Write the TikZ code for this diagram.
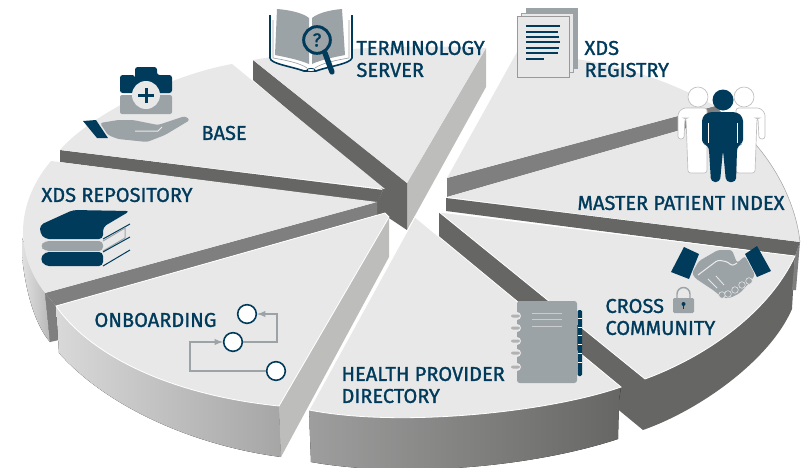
\documentclass[tikz,border=0pt]{standalone}
\usepackage{fontspec}
\setmainfont{Fira Sans}[BoldFont = Fira Sans, BoldFeatures = {FakeBold = 1.3}]
\definecolor{navy}{HTML}{003B5C}
\definecolor{top}{HTML}{E8E8E8}
\definecolor{dark}{HTML}{666664}
\definecolor{mid}{HTML}{7F7F7F}
\definecolor{pale}{HTML}{BDBDBB}
\definecolor{steel}{HTML}{9CA3A7}

\begin{document}
\begin{tikzpicture}[x = 0.75pt, y = -0.75pt, line width = 0.75pt,
                        face/.style = {fill = top, draw = white, line width = 0.6pt},
                        wall/.style = {fill = dark},
                        strip/.style = {fill = mid},
                        caption/.style = {anchor = west, inner sep = 0pt, align = left, text = navy,
                                        font = \bfseries\fontsize{15}{16.5}\selectfont},
                        ring/.style = {circle, draw = navy, fill = white, line width = 1.2pt,
                                       minimum size = 14pt, inner sep = 0pt},
                        flow/.style = {draw = steel, line width = 1.1pt},
                        man/.style = {fill = white, draw = black!25, line width = 0.5pt, rounded corners = 2pt}]
      \useasboundingbox (0, 0) rectangle (808, 468);

      % side walls
      \fill [left color = black!12, right color = black!28] (22, 238) -- (22, 255) .. controls (25, 290) and (35, 325) .. (50, 342) -- (45, 293) -- cycle;
      \fill [strip] (45, 293) -- (50, 342) -- (59, 340) -- (56, 306) -- cycle;
      \fill [left color = black!15, right color = black!35] (56, 306) -- (59, 353) .. controls (105, 405) and (190, 445) .. (281, 457) -- (279, 406) -- cycle;
      \fill [pale] (279, 406) -- (281, 457) -- (389, 257) -- (389, 217) -- cycle;
      \fill [wall] (439, 212) -- (645, 379) -- (795, 256) -- (792, 309) .. controls (770, 360) and (700, 410) .. (643, 430) -- (439, 262) -- cycle;
      \fill [strip] (800, 242) -- (796, 290) -- (792, 290) -- (795, 256) -- cycle;
      \fill [left color = black!38, right color = dark] (309, 410) -- (311, 462) .. controls (400, 478) and (530, 468) .. (618, 439) -- (619, 400) -- (621, 387) -- cycle;
      \fill [pale] (486, 48) -- (486, 87) -- (407, 230) -- (407, 183) -- cycle;
      \fill [wall] (253, 60) -- (407, 183) -- (407, 230) -- (389, 218) -- (377, 215) -- (377, 202) -- (383, 190) -- (253, 80) -- cycle;
      \fill [wall] (60, 150) -- (383, 190) -- (377, 203) -- (60, 162) -- cycle;
      \fill [strip] (45, 293) -- (377, 202) -- (377, 215) -- (56, 306) -- cycle;
      \fill [strip] (447, 178) -- (715, 106) -- (726, 117) -- (447, 197) -- cycle;
      \fill [wall] (446, 198) -- (800, 242) -- (795, 256) -- (446, 211) -- cycle;

      % top faces
      \fill [top] (253, 60) .. controls (320, 48) and (420, 44) .. (486, 48) -- (407, 183) -- cycle;
      \fill [top] (60, 150) .. controls (90, 115) and (170, 75) .. (232, 64) -- (385, 189) -- cycle;
      \fill [top] (51, 161) .. controls (18, 200) and (12, 250) .. (45, 293) -- (377, 202) -- cycle;
      \draw [face] (56, 306) -- (385, 213) -- (389, 217) -- (279, 406) .. controls (170, 395) and (90, 355) .. (56, 306) -- cycle;
      \draw [face] (415, 217) -- (621, 387) .. controls (550, 412) and (400, 428) .. (309, 410) -- cycle;
      \draw [face] (439, 212) -- (795, 256) .. controls (770, 310) and (710, 355) .. (645, 379) -- cycle;
      \fill [top] (447, 178) -- (517, 52) .. controls (590, 58) and (650, 70) .. (715, 106) -- cycle;
      \fill [top] (447, 197) -- (726, 117) .. controls (765, 145) and (795, 195) .. (800, 242) -- cycle;
      \draw [black!35, line width = 0.4pt] (726, 117) .. controls (765, 145) and (795, 195) .. (800, 242);

      % terminology book
      \draw [navy, fill = white, line width = 1.2pt] (270, 15) -- (270, 58) .. controls (271, 64) and (290, 66) .. (304, 71) -- (316, 71) .. controls (330, 66) and (350, 64) .. (352, 58) -- (352, 15);
      \fill [steel] (277, 9) .. controls (290, 10) and (303, 13) .. (309, 18) -- (309, 64) .. controls (300, 60) and (285, 57) .. (275, 55) -- cycle;
      \fill [steel] (342, 9) .. controls (330, 10) and (318, 13) .. (312, 18) -- (312, 64) .. controls (320, 60) and (335, 57) .. (345, 55) -- cycle;
      \draw [steel, line width = 0.5pt] (273, 20) -- (273, 58) .. controls (285, 60) and (300, 63) .. (307, 68);
      \draw [steel, line width = 0.5pt] (349, 20) -- (349, 58) .. controls (337, 60) and (322, 63) .. (315, 68);
      \draw [navy, fill = white, line width = 0.6pt] (311, 70) ellipse (4 and 1.6);
      \draw [navy, line width = 4pt, line cap = round] (325, 53) -- (332, 72);
      \node [circle, draw = navy, fill = steel, line width = 2.2pt, minimum size = 20pt, inner sep = 0pt, text = navy, font = \bfseries\fontsize{14}{14}\selectfont] (lens) at (317, 40){?};

      % medical bag and hand
      \fill [navy, rounded corners = 2pt] (135, 78) -- (135, 67) -- (157, 67) -- (157, 75) -- (172, 75) -- (172, 93) -- (120, 93) -- (120, 75) -- (135, 75) -- cycle;
      \fill [steel, rounded corners = 1.5pt] (120, 95) rectangle (172, 114);
      \fill [top] (146, 95) circle (14);
      \fill [navy] (138, 94) rectangle (154, 97);
      \fill [navy] (144.5, 88) rectangle (147.5, 103);
      \fill [steel, rounded corners = 2pt] (100, 123) -- (118, 120) -- (133, 120) -- (158, 125) -- (185, 116) -- (190, 120) -- (165, 135) -- (147, 142) -- (118, 139) -- (108, 135) -- cycle;
      \fill [navy] (83, 121) -- (96, 120) -- (108, 138) -- (97, 138) -- cycle;
      \draw [top] (135, 131) -- (158, 131) -- (162, 127);

      % stack of books
      \fill [top] (103, 227) -- (130, 213) -- (130, 224) -- (103, 239) -- cycle;
      \draw [navy] (103, 239) -- (130, 224);
      \fill [navy, rounded corners = 3pt] (73, 210) -- (130, 211) -- (103, 227) -- (103, 239) -- (45, 239) -- (40, 233) -- (40, 225) -- cycle;
      \fill [top] (103, 241) -- (125, 228) -- (125, 238) -- (103, 251) -- cycle;
      \draw [steel] (103, 241) -- (125, 228) -- (125, 238) -- (103, 251);
      \fill [steel, rounded corners = 3pt] (45, 241) -- (103, 241) -- (103, 251) -- (45, 251) -- (40, 246) -- cycle;
      \fill [top] (103, 252) -- (130, 237) -- (130, 250) -- (103, 266) -- cycle;
      \draw [navy] (103, 252) -- (130, 237) (130, 250) -- (103, 266);
      \fill [navy, rounded corners = 3pt] (45, 252) -- (103, 252) -- (103, 266) -- (45, 266) -- (40, 259) -- cycle;

      % stack of pages
      \draw [fill = steel, draw = steel] (526, 8) rectangle (577, 68);
      \draw [fill = top, draw = steel] (521, 13) rectangle (573, 72);
      \draw [fill = black!9, draw = black!40] (517, 16) rectangle (569, 77);
      \foreach \y/\x in {26/560, 32/558, 37/559, 42/560, 48/559, 53/558, 59/544}
        \fill [navy] (526, \y - 1) rectangle (\x, \y + 1);

      % people
      \draw [man] (698, 97) circle (10);
      \draw [man] (744, 97) circle (10);
      \draw [man] (678, 113) -- (683, 108) -- (707, 108) -- (707, 173) -- (688, 173) -- (686, 118) -- (685, 118) -- (684, 139) -- (678, 139) -- cycle;
      \draw [man] (765, 113) -- (760, 108) -- (736, 108) -- (736, 173) -- (755, 173) -- (757, 118) -- (758, 118) -- (759, 139) -- (765, 139) -- cycle;
      \fill [navy] (723, 100) circle (10.5);
      \fill [navy, rounded corners = 3pt] (702, 117) -- (708, 112) -- (737, 112) -- (743, 117) -- (743, 144) -- (738, 145) -- (737, 150) -- (736, 182) -- (726, 182) -- (723, 150) -- (720, 182) -- (711, 182) -- (709, 150) -- (708, 145) -- (702, 144) -- cycle;
      \draw [white, line width = 0.5pt] (708.5, 123) -- (708.5, 143) (737, 123) -- (737, 143);

      % handshake and lock
      \fill [steel, rounded corners = 2pt] (699, 261) -- (718, 250) -- (732, 250) -- (737, 263) -- (745, 256) -- (755, 275) -- (750, 282) -- (740, 293) -- (730, 298) -- (723, 298) -- (713, 290) -- (695, 278) -- (692, 273) -- cycle;
      \foreach \x/\y in {722/295, 728/294, 735/290, 742/285, 749/281}
        \draw [steel, fill = steel, draw = top, line width = 0.4pt] (\x, \y) circle (3.3);
      \draw [top, line width = 0.8pt, rounded corners = 2pt] (698, 275) -- (718, 260) -- (728, 262) -- (732, 266) -- (737, 263);
      \draw [top, line width = 0.6pt] (708, 279) -- (717, 288) (716, 276) -- (724, 285);
      \fill [navy] (684, 247) -- (699, 254) -- (689, 279) -- (671, 272) -- cycle;
      \fill [navy] (757, 246) -- (745, 254) -- (757, 277) -- (771, 271) -- cycle;
      \fill [steel, rounded corners = 1pt] (673, 298) rectangle (694, 313);
      \draw [steel, line width = 1.1pt] (677, 298) -- (677, 294) arc (180 : 360 : 6.5) -- (690, 298);
      \fill [navy] (683.5, 304) circle (2);
      \fill [navy] (682.7, 304) rectangle (684.3, 309);

      % notebook
      \fill [steel, rounded corners = 2pt] (517, 301) rectangle (577, 383);
      \foreach \y in {316, 328, 341, 353, 367}
      {
        \fill [top] (517, \y) circle (4);
        \fill [black!30, rounded corners = 1.5pt] (511, \y - 1.5) rectangle (520, \y + 1.5);
      }
      \fill [navy, rounded corners = 1pt] (577.5, 310) rectangle (582, 376);
      \foreach \y in {318, 327, 335, 344, 353, 362}
        \draw [white, line width = 0.4pt] (577.5, \y) -- (582, \y);
      \foreach \y in {313, 319, 326}
        \draw [black!20] (532, \y) -- (562, \y);

      % onboarding steps
      \node [ring] (step1) at (247, 314){};
      \node [ring] (step2) at (233, 342){};
      \node [ring] (step3) at (276, 371){};
      \coordinate (c1) at (277, 342);
      \coordinate (c2) at (277, 314);
      \coordinate (c3) at (190, 371);
      \coordinate (c4) at (190, 342);
      \draw [flow, -latex] (step2) -- (c1) -- (c2) -- (step1);
      \draw [flow, -latex] (step3) -- (c3) -- (c4) -- (step2);

      % labels
      \node [caption] (terminology) at (356, 59){TERMINOLOGY\\SERVER};
      \node [caption] (registry) at (584, 59){XDS\\REGISTRY};
      \node [caption] (base) at (201, 133){BASE};
      \node [caption] (repository) at (41, 195){XDS REPOSITORY};
      \node [caption] (master) at (577, 203){MASTER PATIENT INDEX};
      \node [caption] (onboarding) at (94, 320){ONBOARDING};
      \node [caption] (health) at (341, 385){HEALTH PROVIDER\\DIRECTORY};
      \node [caption] (cross) at (605, 317){CROSS\\COMMUNITY};

      \end{tikzpicture}
\end{document}
